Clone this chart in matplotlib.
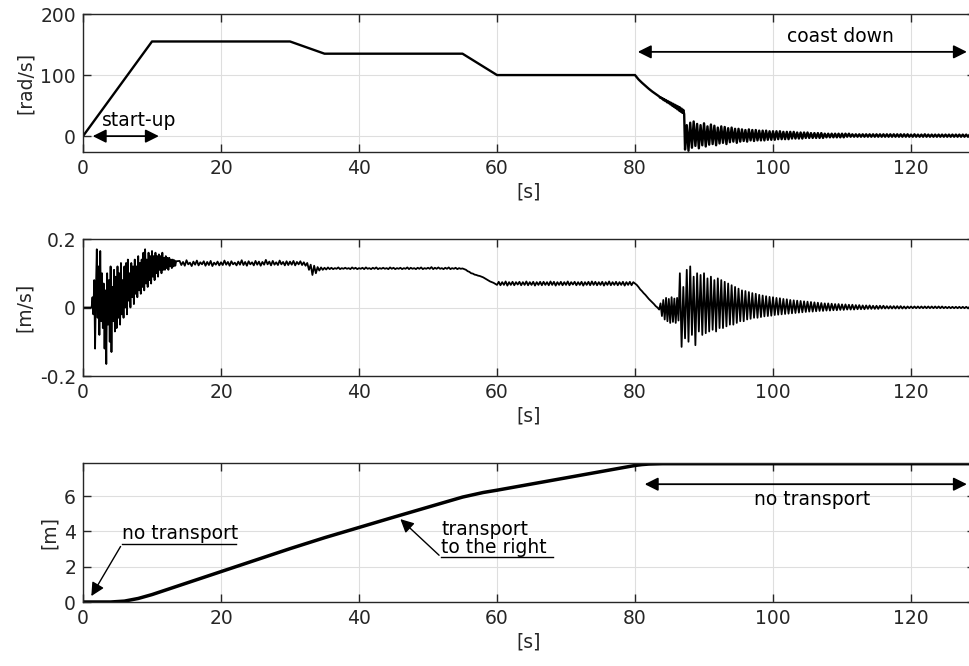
import numpy as np
import matplotlib
matplotlib.use("Agg")
import matplotlib.pyplot as plt

# ── Data ─────────────────────────────────────────────────────────────────────

# motor speed [rad/s], ramp profile
speed_t = [0, 10, 30, 35, 55, 60, 80, 80.5, 81, 81.5, 82, 82.5, 83]
speed = [0, 155, 155, 135, 135, 100, 100, 93, 87.5, 82.5, 77.5, 73, 69]

# speed, thickening band before the drop (step 0.125 s from 83.5)
speed_band_t0, speed_band_dt = 83.5, 0.125
speed_band = [65, 63, 63.5, 61.5, 62, 59, 60.5, 57.5, 59, 55.5, 57.5, 54, 56,
              52, 54.5, 50, 53, 48, 51.5, 46, 50, 44, 48.5, 42, 47, 40, 45, 38,
              43, 36]

# speed, coast down oscillation (step 0.25 s from 87.25)
coast_t0, coast_dt = 87.25, 0.25
coast_speed = [-22, 18, -24, 22, -19, 24, -16, 20, -20, 18, -15, 21, -17, 16, -14, 19,
               -13, 17, -15, 14, -12, 16, -11, 15, -13, 13, -10, 14, -9, 12, -11, 12,
               -9, 11, -8, 10, -9, 11, -7, 10, -8, 10, -7, 9, -7, 9, -7, 9,
               -6, 8, -6, 8, -6, 8, -5, 8, -5, 7, -5, 7, -5, 7, -4, 7,
               -4, 6, -4, 6, -4, 6, -3, 6, -3, 5, -3, 5, -3, 5, -3, 5,
               -3, 4, -2, 4, -2, 4, -2, 4, -2, 4, -2, 4, -2, 4, -1, 4,
               -1, 3, -1, 3, -1, 3, -1, 3, -1, 3, -1, 3, -1, 3, -1, 3,
               -1, 3, -1, 3, -1, 3, -1, 3, -1, 3, -1, 3, -1, 3, -1, 3,
               -1, 3, -1, 2.5, -1, 3, -1, 2.5, -1, 2.5, -1, 3, -1, 2.5, -1, 2.5,
               -1, 2.5, -1, 2.5, -1, 2.5, -1, 2.5, -1, 2.5, -1, 2.5, -1, 2.5, -1, 2.5,
               -1, 2.5, -1, 2.5, -1, 2.5, -1, 2.5]

# belt velocity [m/s], start-up (step 0.125 s from 1.25)
vel_start_t0, vel_start_dt = 1.25, 0.125
vel_start = [0.0, 0.03, -0.02, 0.08, -0.12, 0.05, 0.17, -0.03, 0.12, -0.08,
             0.165, -0.04, 0.10, -0.06, 0.07, -0.12, 0.05, -0.165, 0.10, -0.05,
             0.08, -0.10, 0.12, -0.13, 0.06, -0.04, 0.11, -0.07, 0.09, -0.06,
             0.12, -0.03, 0.10, -0.05, 0.13, -0.02, 0.08, -0.03, 0.12, 0.0,
             0.13, -0.02, 0.14, 0.02, 0.10, 0.0, 0.13, 0.03, 0.12, 0.01,
             0.14, 0.04, 0.12, 0.03, 0.15, 0.05, 0.13, 0.04, 0.14, 0.06,
             0.16, 0.05, 0.17, 0.07, 0.14, 0.06, 0.16, 0.08, 0.15, 0.07,
             0.165, 0.09, 0.15, 0.08, 0.16, 0.10, 0.15, 0.09, 0.155, 0.11,
             0.15, 0.10, 0.16, 0.11, 0.145, 0.11, 0.15, 0.115, 0.145, 0.11,
             0.145, 0.12, 0.14, 0.115, 0.14, 0.12, 0.138, 0.122, 0.135]

# velocity, first plateau with dip near 33 s (step 0.25 s from 14)
vel_p1_t0, vel_p1_dt = 14.0, 0.25
vel_p1 = [0.136, 0.124, 0.133, 0.122, 0.138, 0.126, 0.131, 0.121,
          0.134, 0.125, 0.137, 0.123, 0.132, 0.126, 0.135, 0.122,
          0.133, 0.124, 0.136, 0.121, 0.131, 0.125, 0.134, 0.123,
          0.132, 0.124, 0.137, 0.125, 0.133, 0.122, 0.135, 0.126,
          0.131, 0.123, 0.134, 0.125, 0.138, 0.124, 0.133, 0.122,
          0.135, 0.126, 0.132, 0.123, 0.136, 0.125, 0.134, 0.122,
          0.133, 0.125, 0.139, 0.126, 0.134, 0.123, 0.136, 0.125,
          0.132, 0.124, 0.137, 0.126, 0.133, 0.123, 0.135, 0.124,
          0.134, 0.125, 0.136, 0.123, 0.133, 0.126, 0.135, 0.124,
          0.132, 0.122, 0.130, 0.110, 0.125, 0.095, 0.122, 0.100,
          0.118, 0.108, 0.117, 0.110, 0.116, 0.111, 0.117, 0.112]

# velocity, second plateau and ramp down (step 0.25 s from 36)
vel_p2_t0, vel_p2_dt = 36.0, 0.25
vel_p2 = [0.116, 0.112, 0.115, 0.113, 0.117, 0.112, 0.115, 0.113,
          0.116, 0.113, 0.115, 0.112, 0.117, 0.113, 0.116, 0.112,
          0.115, 0.113, 0.116, 0.112, 0.117, 0.113, 0.115, 0.112,
          0.116, 0.113, 0.117, 0.112, 0.115, 0.113, 0.116, 0.113,
          0.115, 0.112, 0.117, 0.113, 0.116, 0.112, 0.115, 0.113,
          0.116, 0.112, 0.115, 0.113, 0.117, 0.112, 0.116, 0.113,
          0.115, 0.112, 0.116, 0.113, 0.117, 0.112, 0.115, 0.113,
          0.116, 0.113, 0.118, 0.112, 0.116, 0.113, 0.117, 0.113,
          0.115, 0.112, 0.116, 0.113, 0.117, 0.112, 0.115, 0.113,
          0.116, 0.112, 0.115, 0.113, 0.114,
          0.112, 0.110, 0.106, 0.104, 0.100, 0.099, 0.096, 0.095, 0.093,
          0.092, 0.090, 0.088, 0.085, 0.082, 0.079, 0.076, 0.074, 0.072]

# velocity, third plateau (step 0.25 s from 60)
vel_p3_t0, vel_p3_dt = 60.0, 0.25
vel_p3 = [0.066, 0.075, 0.065, 0.074, 0.066, 0.076, 0.064, 0.074,
          0.066, 0.075, 0.065, 0.074, 0.067, 0.075, 0.065, 0.074,
          0.066, 0.076, 0.065, 0.074, 0.066, 0.075, 0.064, 0.074,
          0.066, 0.075, 0.065, 0.075, 0.066, 0.074, 0.065, 0.076,
          0.066, 0.075, 0.064, 0.074, 0.066, 0.075, 0.065, 0.074,
          0.066, 0.076, 0.065, 0.074, 0.067, 0.075, 0.065, 0.074,
          0.066, 0.075, 0.064, 0.074, 0.066, 0.075, 0.065, 0.076,
          0.066, 0.075, 0.065, 0.074, 0.066, 0.075, 0.064, 0.074,
          0.066, 0.076, 0.065, 0.074, 0.066, 0.075, 0.065, 0.074,
          0.066, 0.075, 0.064, 0.074, 0.066, 0.075, 0.065, 0.074, 0.070]

# velocity, decline after 80 s (step 0.25 s from 80.25)
vel_dec_t0, vel_dec_dt = 80.25, 0.25
vel_dec = [0.066, 0.060, 0.053, 0.048, 0.042, 0.037, 0.031, 0.025, 0.020,
           0.015, 0.010, 0.004, 0.0, -0.006]

# velocity, small oscillation before the drop (step 0.2 s from 83.7)
vel_osc_t0, vel_osc_dt = 83.7, 0.2
vel_osc = [0.012, -0.025, 0.022, -0.035, 0.028, -0.04, 0.025, -0.045, 0.03,
           -0.042, 0.026, -0.045, 0.028, -0.038]

# velocity, coast down oscillation (step 0.25 s from 86.5)
vel_coast_t0, vel_coast_dt = 86.5, 0.25
vel_coast = [0.10, -0.115, 0.06, -0.09, 0.11, -0.10, 0.12, -0.08,
             0.09, -0.11, 0.10, -0.07, 0.095, -0.08, 0.10, -0.075,
             0.085, -0.07, 0.09, -0.065, 0.08, -0.07, 0.085, -0.06,
             0.08, -0.06, 0.075, -0.055, 0.07, -0.05, 0.065, -0.05,
             0.06, -0.045, 0.055, -0.04, 0.05, -0.04, 0.048, -0.035,
             0.045, -0.033, 0.042, -0.03, 0.04, -0.03, 0.037, -0.028,
             0.035, -0.026, 0.033, -0.025, 0.031, -0.024, 0.03, -0.022,
             0.028, -0.021, 0.027, -0.02, 0.025, -0.019, 0.024, -0.018,
             0.022, -0.017, 0.021, -0.016, 0.02, -0.015, 0.019, -0.014,
             0.018, -0.013, 0.017, -0.012, 0.016, -0.012, 0.015, -0.011,
             0.014, -0.01, 0.013, -0.01, 0.012, -0.009, 0.012, -0.009,
             0.011, -0.008, 0.01, -0.008, 0.01, -0.007, 0.009, -0.007,
             0.009, -0.006, 0.008, -0.006, 0.008, -0.006, 0.007, -0.005,
             0.007, -0.005, 0.006, -0.005, 0.006, -0.004, 0.006, -0.004,
             0.005, -0.004, 0.005, -0.004, 0.005, -0.003, 0.005, -0.003,
             0.004, -0.003, 0.004, -0.003, 0.004, -0.003, 0.004, -0.003,
             0.004, -0.003, 0.003, -0.003, 0.003, -0.002, 0.003, -0.002,
             0.003, -0.002, 0.003, -0.002, 0.003, -0.002, 0.003, -0.002,
             0.003, -0.002, 0.003, -0.002, 0.003, -0.002, 0.003, -0.002,
             0.003, -0.002, 0.002, -0.002, 0.002, -0.002, 0.002, -0.002,
             0.002, -0.002, 0.002, -0.002, 0.002, -0.002, 0.002, -0.002,
             0.002, -0.002, 0.002, -0.002]

# belt position [m]
pos_t = [0, 4, 6, 8, 10, 12, 15, 20, 25, 30, 35, 40, 45, 50, 55, 58, 60, 65,
         70, 75, 80, 81, 82, 84, 130]
pos = [0, 0, 0.05, 0.2, 0.42, 0.68, 1.07, 1.72, 2.37, 3.02, 3.64, 4.22, 4.8,
       5.37, 5.94, 6.2, 6.33, 6.68, 7.03, 7.38, 7.73, 7.78, 7.81, 7.83, 7.83]

x_ticks = [0, 20, 40, 60, 80, 100, 120]


def seg(t0, dt, vals):
    return [t0 + dt * i for i in range(len(vals))]


def style_axes(ax, yticks, yticklabels, ylim):
    ax.set_xlim(0, 129.2)
    ax.set_ylim(*ylim)
    ax.set_xticks(x_ticks)
    ax.set_yticks(yticks)
    ax.set_yticklabels(yticklabels)
    ax.grid(True, color="#dedede", lw=0.8)
    ax.set_axisbelow(True)
    ax.tick_params(direction="in", length=6, width=1, colors="#262626",
                   labelsize=13.5, top=True, right=True, pad=5)
    for s in ax.spines.values():
        s.set_color("#262626")
        s.set_linewidth(1)
    ax.set_xlabel("[s]", fontsize=13.5, color="#262626", labelpad=3)


W, H = 969, 666
fig = plt.figure(figsize=(W / 100, H / 100), dpi=100)


def axes_px(top, bottom):
    return fig.add_axes([83 / W, 1 - bottom / H, 891.5 / W, (bottom - top) / H])


ax1 = axes_px(14, 152)
ax2 = axes_px(239, 376)
ax3 = axes_px(463, 602)

# ── Top: motor speed ─────────────────────────────────────────────────────────
t1 = speed_t + seg(speed_band_t0, speed_band_dt, speed_band) + seg(coast_t0, coast_dt, coast_speed)
y1 = speed + speed_band + coast_speed
ax1.plot(t1, y1, color="k", lw=1.7)
style_axes(ax1, [0, 100, 200], ["0", "100", "200"], (-26, 200))
ax1.set_ylabel("[rad/s]", fontsize=13.5, color="#262626")

arr = dict(arrowstyle="<|-|>", color="k", lw=1.3, mutation_scale=20)
ax1.annotate("", xy=(1.0, 0), xytext=(11.4, 0), arrowprops=arr)
ax1.text(2.8, 10, "start-up", fontsize=13.5, ha="left", va="bottom")
ax1.annotate("", xy=(80, 138), xytext=(128.5, 138), arrowprops=arr,
             annotation_clip=False)
ax1.text(109.7, 148, "coast down", fontsize=13.5, ha="center", va="bottom")

# ── Middle: belt velocity ────────────────────────────────────────────────────
t2 = ([0, 1.0] + seg(vel_start_t0, vel_start_dt, vel_start)
      + seg(vel_p1_t0, vel_p1_dt, vel_p1) + seg(vel_p2_t0, vel_p2_dt, vel_p2)
      + seg(vel_p3_t0, vel_p3_dt, vel_p3) + seg(vel_dec_t0, vel_dec_dt, vel_dec)
      + seg(vel_osc_t0, vel_osc_dt, vel_osc)
      + seg(vel_coast_t0, vel_coast_dt, vel_coast))
y2 = [0, 0] + vel_start + vel_p1 + vel_p2 + vel_p3 + vel_dec + vel_osc + vel_coast
ax2.plot(t2, y2, color="k", lw=1.3)
style_axes(ax2, [-0.2, 0, 0.2], ["-0.2", "0", "0.2"], (-0.2, 0.2))
ax2.set_ylabel("[m/s]", fontsize=13.5, color="#262626")

# ── Bottom: belt position ────────────────────────────────────────────────────
ax3.plot(pos_t, pos, color="k", lw=2.5)
style_axes(ax3, [0, 2, 4, 6], ["0", "2", "4", "6"], (0, 7.87))
ax3.set_ylabel("[m]", fontsize=13.5, color="#262626")

thin = dict(arrowstyle="-|>", color="k", lw=1.0, mutation_scale=20)
ax3.text(5.65, 3.33, "no transport", fontsize=13.5, ha="left", va="bottom")
ax3.plot([5.65, 22.2], [3.28, 3.28], color="k", lw=1.0)
ax3.annotate("", xy=(1.0, 0.2), xytext=(5.65, 3.28), arrowprops=thin)

ax3.text(51.9, 2.56, "transport\nto the right", fontsize=13.5, ha="left",
         va="bottom", linespacing=0.95)
ax3.plot([51.9, 68.1], [2.54, 2.54], color="k", lw=1.0)
ax3.annotate("", xy=(45.7, 4.8), xytext=(51.9, 2.54), arrowprops=thin)

ax3.annotate("", xy=(81, 6.67), xytext=(128.5, 6.67), arrowprops=arr,
             annotation_clip=False)
ax3.text(105.6, 5.8, "no transport", fontsize=13.5, ha="center", va="center")

fig.savefig("out.png", dpi=100)
